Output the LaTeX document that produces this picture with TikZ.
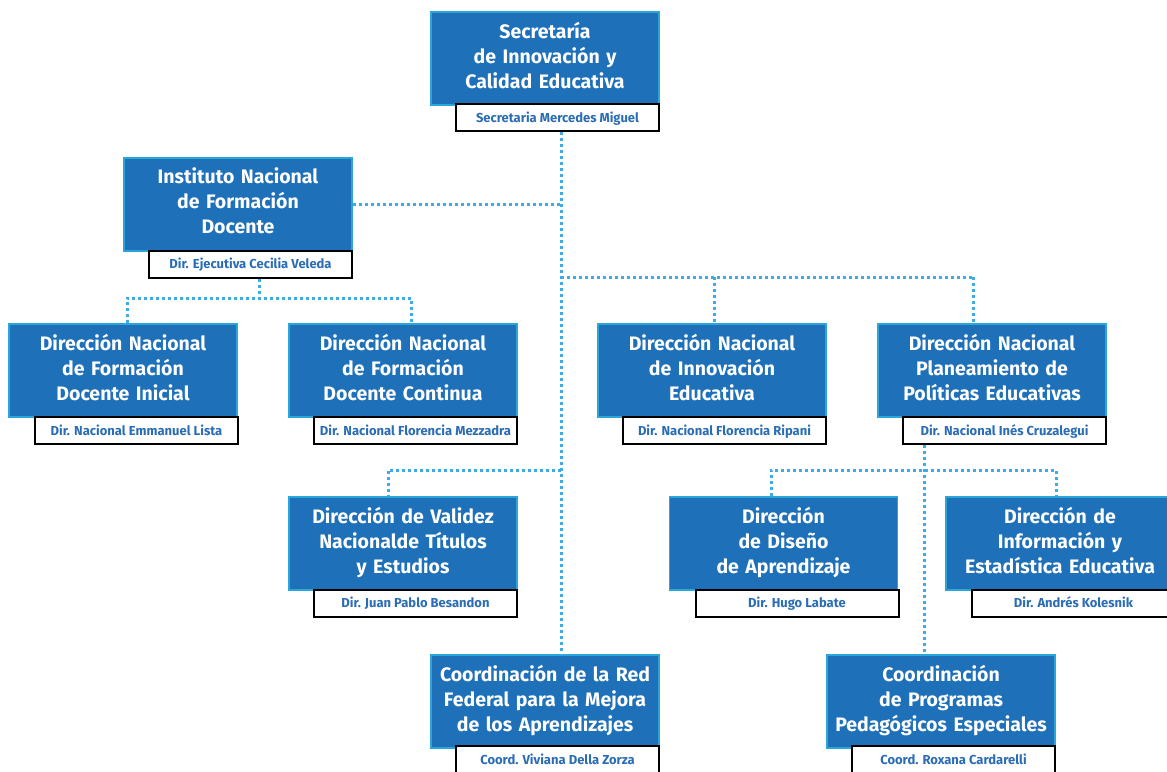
\documentclass[tikz,border=0pt]{standalone}
\usepackage{fontspec}
\setmainfont{Fira Sans}
\definecolor{boxblue}{HTML}{1E70B8}
\definecolor{edgeblue}{HTML}{2BA6D8}
\definecolor{lineblue}{HTML}{3DABE6}
\definecolor{nameblue}{HTML}{2A6DB5}
\newcommand\titlefnt{\fontsize{19.5}{25}\selectfont\bfseries}
\newcommand\namefnt{\fontsize{13}{14}\selectfont\bfseries}
\tikzset{
  bluebox/.style={fill=boxblue, draw=edgeblue, line width=1.5pt, minimum width=228pt, minimum height=93pt, text width=226pt, align=center, text=white, font=\titlefnt, inner sep=0pt, execute at end node={\rule[-7pt]{0pt}{0pt}}},
  namebox/.style={fill=white, draw=black, line width=2pt, minimum width=203pt, minimum height=27pt, inner sep=0pt, text height=11pt, text depth=1.5pt, text=nameblue, font=\namefnt},
  conn/.style={draw=lineblue, line width=3pt, dash pattern=on 3pt off 3pt}
}
\begin{document}
\begin{tikzpicture}[x=1pt,y=-1pt]
\useasboundingbox (0,0) rectangle (1167,771);
\clip (0,0) rectangle (1167,771);
% coordinates for connector routes
\coordinate (m) at (561,0);
\coordinate (jl) at (0,298);
\coordinate (jr) at (0,277);
\coordinate (jv) at (0,470);
\coordinate (xa) at (127,0);
\coordinate (xb) at (411,0);
\coordinate (xi) at (259,0);
\coordinate (xc) at (714,0);
\coordinate (xd) at (973,0);
\coordinate (xv) at (388,0);
\coordinate (xp) at (924,0);
\coordinate (xe) at (771,0);
\coordinate (xf) at (1056,0);
% boxes
\node[bluebox] (sec) at (545,58.5) {Secretaría\\de Innovación y\\Calidad Educativa};
\node[namebox] (secn) at (557.5,117.5) {Secretaria Mercedes Miguel};
\node[bluebox] (inf) at (238,204.5) {Instituto Nacional\\de Formación\\Docente};
\node[namebox] (infn) at (250.5,264) {Dir. Ejecutiva Cecilia Veleda};
\node[bluebox] (dfi) at (123,370.5) {Dirección Nacional\\de Formación\\Docente Inicial};
\node[namebox] (dfin) at (136.5,430.5) {Dir. Nacional Emmanuel Lista};
\node[bluebox] (dfc) at (403,370.5) {Dirección Nacional\\de Formación\\Docente Continua};
\node[namebox] (dfcn) at (415.5,430.5) {Dir. Nacional Florencia Mezzadra};
\node[bluebox] (dni) at (712,370.5) {Dirección Nacional\\de Innovación\\Educativa};
\node[namebox] (dnin) at (724.5,430.5) {Dir. Nacional Florencia Ripani};
\node[bluebox] (dnp) at (992,370.5) {Dirección Nacional\\Planeamiento de\\Políticas Educativas};
\node[namebox] (dnpn) at (1004.5,430.5) {Dir. Nacional Inés Cruzalegui};
\node[bluebox] (val) at (403,543.5) {Dirección de Validez\\Nacionalde Títulos\\y Estudios};
\node[namebox] (valn) at (415.5,603) {Dir. Juan Pablo Besandon};
\node[bluebox] (dis) at (783.5,543.5) {Dirección\\de Diseño\\de Aprendizaje};
\node[namebox] (disn) at (797,603) {Dir. Hugo Labate};
\node[bluebox] (ie) at (1060,543.5) {Dirección de\\Información y\\Estadística Educativa};
\node[namebox] (ien) at (1073.5,603) {Dir. Andrés Kolesnik};
\node[bluebox] (red) at (545,701.5) {Coordinación de la Red\\Federal para la Mejora\\de los Aprendizajes};
\node[namebox] (redn) at (557.5,759.5) {Coord. Viviana Della Zorza};
\node[bluebox] (prog) at (941,701.5) {Coordinación\\de Programas\\Pedagógicos Especiales};
\node[namebox] (progn) at (953.5,759.5) {Coord. Roxana Cardarelli};
% connectors
\draw[conn] (secn.south -| m) -- (red.north -| m);
\draw[conn] (inf.east) -- (inf.east -| m);
\draw[conn] (infn.south -| xi) -- (jl -| xi);
\draw[conn] (dfi.north -| xa) -- (jl -| xa) -- (jl -| xb) -- (dfc.north -| xb);
\draw[conn] (jr -| m) -- (jr -| xd);
\draw[conn] (jr -| xc) -- (dni.north -| xc);
\draw[conn] (jr -| xd) -- (dnp.north -| xd);
\draw[conn] (jv -| m) -- (jv -| xv) -- (val.north -| xv);
\draw[conn] (dnpn.south -| xp) -- (prog.north -| xp);
\draw[conn] (dis.north -| xe) -- (jv -| xe) -- (jv -| xf) -- (ie.north -| xf);
\end{tikzpicture}
\end{document}
